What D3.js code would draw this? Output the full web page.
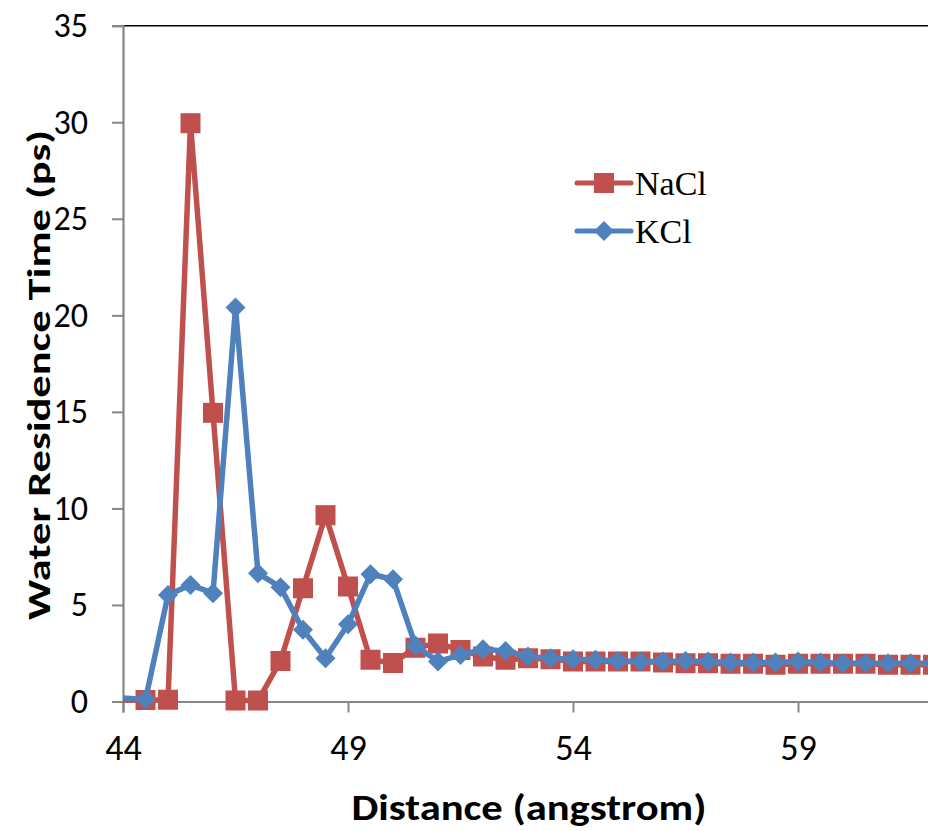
<!DOCTYPE html>
<html>
<head>
<meta charset="utf-8">
<script src="https://cdn.jsdelivr.net/npm/d3@7"></script>
<style>
  body { margin: 0; background: #fff; }
  svg { display: block; }
</style>
</head>
<body>
<div id="chart"></div>
<script>
// distance (angstrom), 0.5 steps
const distance = [43.5, 44, 44.5, 45, 45.5, 46, 46.5, 47, 47.5, 48, 48.5, 49, 49.5, 50, 50.5, 51, 51.5, 52, 52.5,
  53, 53.5, 54, 54.5, 55, 55.5, 56, 56.5, 57, 57.5, 58, 58.5, 59, 59.5, 60, 60.5, 61, 61.5, 62];

const naclValues = [0.08, 0.08, 0.08, 0.09, 29.95, 14.95, 0.05, 0.05, 2.1, 5.87, 9.65, 5.95, 2.16, 1.99, 2.79, 3.0,
  2.67, 2.33, 2.16, 2.24, 2.19, 2.07, 2.07, 2.07, 2.07, 2.02, 1.98, 1.98, 1.95, 1.95, 1.9, 1.95, 1.95, 1.95, 1.95, 1.9, 1.9, 1.9];

const kclValues = [0.18, 0.18, 0.1, 5.52, 6.04, 5.61, 20.4, 6.64, 5.92, 3.71, 2.24, 4.0, 6.59, 6.33, 2.9, 2.07,
  2.41, 2.7, 2.62, 2.33, 2.24, 2.19, 2.16, 2.1, 2.07, 2.07, 2.1, 2.07, 2.02, 2.02, 2.02, 2.07, 2.02, 1.98, 1.98, 1.98, 1.98, 1.98];

const seriesNames = ['NaCl', 'KCl'];
const seriesColors = ['#C0504D', '#4F81BD'];
const xTicks = [44, 49, 54, 59];
const yTicks = [0, 5, 10, 15, 20, 25, 30, 35];

const width = 928;
const height = 831;
const margin = { top: 25.7, left: 123 };
const plotBottom = 701.5;

const x = d3.scaleLinear()
  .domain([44, 62])
  .range([margin.left, margin.left + 45 * 18]);

const y = d3.scaleLinear()
  .domain([0, 35])
  .range([plotBottom, margin.top]);

const svg = d3.select('#chart')
  .append('svg')
  .attr('width', width)
  .attr('height', height)
  .attr('viewBox', [0, 0, width, height]);

const font = 'Carlito, Calibri, Lato, sans-serif';

svg.append('defs').append('clipPath')
  .attr('id', 'plot-clip')
  .append('rect')
  .attr('x', margin.left)
  .attr('y', 0)
  .attr('width', width - margin.left)
  .attr('height', plotBottom + 20);

// plot area top border
svg.append('line')
  .attr('x1', margin.left).attr('x2', width)
  .attr('y1', y(35)).attr('y2', y(35))
  .attr('stroke', '#000').attr('stroke-width', 1.5);

// axes
const yAxis = g => g
  .attr('transform', `translate(${margin.left},0)`)
  .call(d3.axisLeft(y).tickValues(yTicks).tickSize(11).tickPadding(24))
  .call(g => g.select('.domain').attr('stroke', '#868686').attr('stroke-width', 2.2))
  .call(g => g.selectAll('.tick line').attr('stroke', '#868686').attr('stroke-width', 2))
  .call(g => g.selectAll('.tick text')
    .attr('font-family', font).attr('font-size', 34).attr('fill', '#000'));

const xAxis = g => g
  .attr('transform', `translate(0,${plotBottom})`)
  .call(d3.axisBottom(x).tickValues(xTicks).tickSize(11).tickPadding(22).tickFormat(d3.format('d')))
  .call(g => g.select('.domain').attr('stroke', '#868686').attr('stroke-width', 2.2))
  .call(g => g.selectAll('.tick line').attr('stroke', '#868686').attr('stroke-width', 2))
  .call(g => g.selectAll('.tick text')
    .attr('font-family', font).attr('font-size', 36).attr('fill', '#000'));

svg.append('g').call(xAxis);
svg.append('g').call(yAxis);

// series
const series = [naclValues, kclValues].map((vals, i) => ({
  name: seriesNames[i],
  color: seriesColors[i],
  points: distance.map((d, j) => ({ x: d, y: vals[j] }))
}));

const line = d3.line().x(d => x(d.x)).y(d => y(d.y));
const square = d3.symbol().type(d3.symbolSquare).size(400);
const diamond = d3.symbol().type(d3.symbolSquare).size(200);

const plot = svg.append('g').attr('clip-path', 'url(#plot-clip)');

series.forEach((s, i) => {
  const g = plot.append('g');
  g.append('path')
    .datum(s.points)
    .attr('fill', 'none')
    .attr('stroke', s.color)
    .attr('stroke-width', 5.5)
    .attr('stroke-linejoin', 'round')
    .attr('d', line);
  // no marker is shown on the axis point in the original
  g.selectAll('path.marker')
    .data(s.points.filter(d => d.x > 44))
    .join('path')
    .attr('class', 'marker')
    .attr('fill', s.color)
    .attr('transform', d => i === 0
      ? `translate(${x(d.x)},${y(d.y)})`
      : `translate(${x(d.x)},${y(d.y)}) rotate(45)`)
    .attr('d', i === 0 ? square : diamond);
});

// legend
const legend = svg.append('g').attr('transform', 'translate(577,183)');
series.forEach((s, i) => {
  const row = legend.append('g').attr('transform', `translate(0,${i * 48})`);
  row.append('line')
    .attr('x1', 0).attr('x2', 54)
    .attr('stroke', s.color).attr('stroke-width', 5).attr('stroke-linecap', 'round');
  row.append('path')
    .attr('fill', s.color)
    .attr('transform', i === 0 ? 'translate(27,0)' : 'translate(27,0) rotate(45)')
    .attr('d', i === 0 ? square : diamond);
  row.append('text')
    .attr('x', 58)
    .attr('y', 12)
    .attr('font-family', "'Liberation Serif', 'Times New Roman', serif")
    .attr('font-size', 34)
    .attr('fill', '#000')
    .text(s.name);
});

// axis titles (sized to the width they have in the original)
svg.append('text')
  .attr('text-anchor', 'middle')
  .attr('font-family', font)
  .attr('font-weight', 'bold')
  .attr('font-size', 37)
  .attr('textLength', 355)
  .attr('lengthAdjust', 'spacingAndGlyphs')
  .attr('transform', 'translate(529,820)')
  .text('Distance (angstrom)');

svg.append('text')
  .attr('text-anchor', 'middle')
  .attr('font-family', font)
  .attr('font-weight', 'bold')
  .attr('font-size', 33)
  .attr('textLength', 490)
  .attr('lengthAdjust', 'spacingAndGlyphs')
  .attr('transform', 'translate(50,375) rotate(-90)')
  .text('Water Residence Time (ps)');
</script>
</body>
</html>
